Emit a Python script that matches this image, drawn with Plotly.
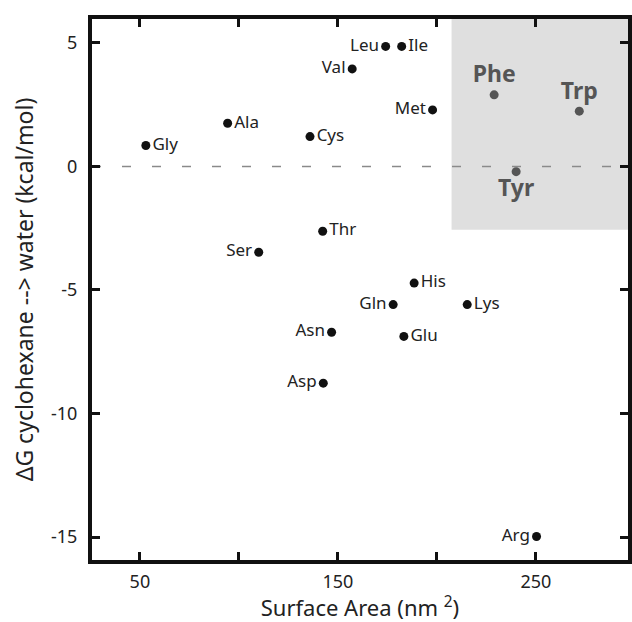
import plotly.graph_objects as go

# Data
names = ["Gly", "Ala", "Cys", "Ser", "Thr", "Leu", "Ile", "Val", "Met",
         "His", "Gln", "Lys", "Asn", "Glu", "Asp", "Arg"]
area = [53, 94.3, 135.9, 110, 142.3, 174.1, 182.2, 157.2, 197.8,
        188.5, 177.9, 215.3, 146.8, 183.3, 142.6, 250.3]
dG = [0.85, 1.75, 1.21, -3.47, -2.62, 4.86, 4.86, 3.95, 2.29,
      -4.72, -5.59, -5.59, -6.71, -6.88, -8.77, -14.98]
label_pos = ["middle right", "middle right", "middle right", "middle left",
             "middle right", "middle left", "middle right", "middle left",
             "middle left", "middle right", "middle left", "middle right",
             "middle left", "middle right", "middle left", "middle left"]

arom_names = ["Phe", "Trp", "Tyr"]
arom_area = [228.9, 271.9, 240.0]
arom_dG = [2.9, 2.24, -0.21]
arom_pos = ["top center", "top center", "bottom center"]

x_ticks = [50, 150, 250]
x_ticktext = ["50", "150", "250"]
x_minor_ticks = [100, 200]
y_ticks = [-15, -10, -5, 0, 5]
y_ticktext = ["-15", "-10", "-5", "0", "5"]

x_range = [25.8, 296.5]
y_range = [-15.93, 5.97]
box_x0 = 207.4
box_y0 = -2.56

FONT = "Noto Sans"

fig = go.Figure()

fig.add_shape(type="rect", xref="x", yref="y", x0=box_x0, x1=x_range[1],
              y0=box_y0, y1=y_range[1], fillcolor="#dfdfdf",
              line=dict(width=0), layer="below")
fig.add_shape(type="line", xref="x", yref="y", x0=x_range[0], x1=x_range[1],
              y0=0, y1=0,
              line=dict(color="#8a8a8a", width=1.5, dash="9px,21px"),
              layer="below")

fig.add_trace(go.Scatter(
    x=area, y=dG, mode="markers+text", text=names,
    textposition=label_pos,
    marker=dict(color="#111111", size=9),
    textfont=dict(family=FONT, size=17, color="#222222"),
    cliponaxis=False, showlegend=False, hoverinfo="text"))

fig.add_trace(go.Scatter(
    x=arom_area, y=arom_dG, mode="markers+text", text=arom_names,
    textposition=arom_pos,
    marker=dict(color="#555555", size=9),
    textfont=dict(family=FONT, size=23, color="#555555", weight="bold"),
    cliponaxis=False, showlegend=False, hoverinfo="text"))

axis_common = dict(
    showline=True, linewidth=4, linecolor="#111111", mirror="allticks",
    ticks="inside", ticklen=8, tickwidth=3, tickcolor="#111111",
    showgrid=False, zeroline=False,
    tickfont=dict(family=FONT, size=18, color="#222222"),
)

fig.update_xaxes(range=x_range, tickvals=x_ticks, ticktext=x_ticktext,
                 ticklabelstandoff=2,
                 minor=dict(tickvals=x_minor_ticks, ticks="inside", ticklen=8,
                            tickwidth=3, tickcolor="#111111", showgrid=False),
                 title=dict(text="Surface Area (nm <sup>2</sup>)",
                            font=dict(family=FONT, size=22, color="#222222"),
                            standoff=3),
                 **axis_common)
fig.update_yaxes(range=y_range, tickvals=y_ticks, ticktext=y_ticktext,
                 ticklabelstandoff=7,
                 title=dict(text="ΔG cyclohexane --> water (kcal/mol)",
                            font=dict(family=FONT, size=23, color="#222222"),
                            standoff=12),
                 **axis_common)

fig.update_layout(
    width=632, height=622,
    margin=dict(l=92, r=4, t=19, b=62, autoexpand=False),
    plot_bgcolor="white", paper_bgcolor="white",
    font=dict(family=FONT),
)

fig.write_html(
    "out.html",
    config={"displayModeBar": False},
    post_script="document.body.style.margin='0';"
                "document.body.style.overflow='hidden';"
                "document.documentElement.style.overflow='hidden';",
)
